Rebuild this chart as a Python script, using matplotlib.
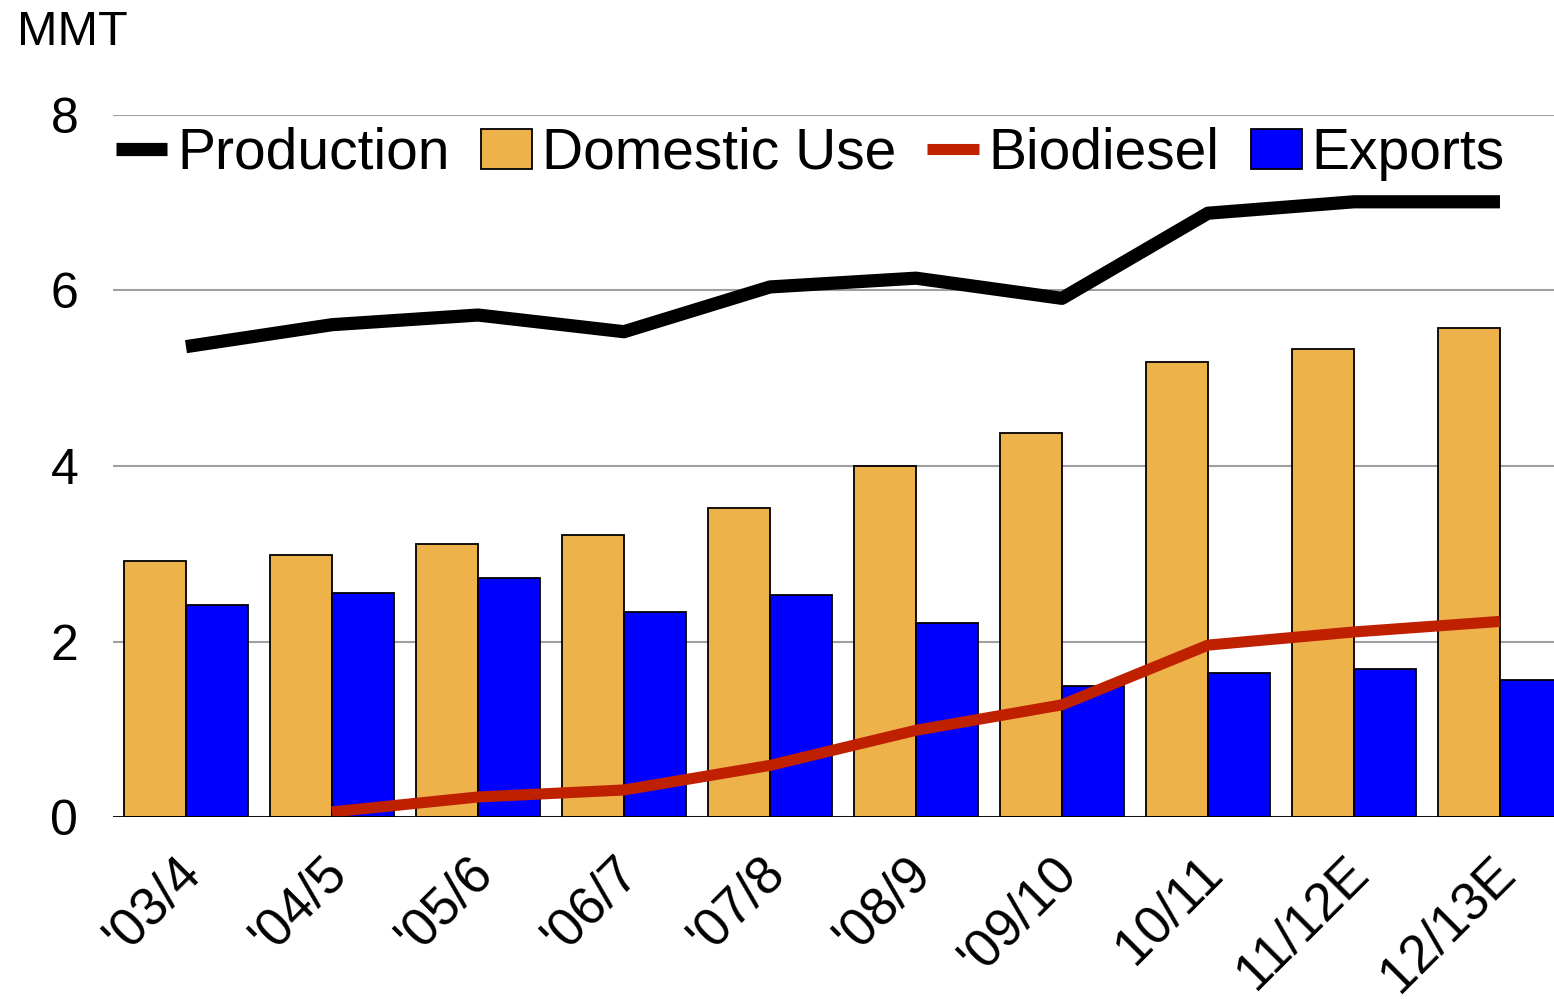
import matplotlib
matplotlib.use("Agg")
import matplotlib.pyplot as plt
from matplotlib.transforms import ScaledTranslation
import numpy as np

plt.rcParams['font.family'] = ['Liberation Sans', 'DejaVu Sans']

# marketing years and values (MMT)
years = ["'03/4", "'04/5", "'05/6", "'06/7", "'07/8", "'08/9", "'09/10", "10/11", "11/12E", "12/13E"]
production = [5.36, 5.61, 5.72, 5.53, 6.04, 6.14, 5.91, 6.88, 7.01, 7.01]
domestic_use = [2.92, 2.99, 3.11, 3.21, 3.52, 4.00, 4.38, 5.19, 5.33, 5.57]
exports = [2.42, 2.55, 2.72, 2.34, 2.53, 2.21, 1.49, 1.64, 1.69, 1.56]
biodiesel = [None, 0.06, 0.23, 0.31, 0.59, 0.99, 1.28, 1.96, 2.11, 2.23]

x = np.arange(len(years))
w = 0.425

fig = plt.figure(figsize=(15.54, 9.99), dpi=100)
ax = fig.add_axes([0.0727, 0.182, 0.9273, 0.703])

ax.bar(x - w / 2, domestic_use, w, color='#EDB24A', edgecolor='black', linewidth=1.3,
       label='Domestic Use', zorder=2)
ax.bar(x + w / 2, exports, w, color='#0000FF', edgecolor='black', linewidth=1.3,
       label='Exports', zorder=2)

ax.plot(x, production, color='black', linewidth=9.5, solid_capstyle='butt',
        solid_joinstyle='round', label='Production', zorder=3)
bx = [xi for xi, v in zip(x, biodiesel) if v is not None]
by = [v for v in biodiesel if v is not None]
ax.plot(bx, by, color='#BF2000', linewidth=8, solid_capstyle='butt',
        solid_joinstyle='round', label='Biodiesel', zorder=3)

ax.set_xlim(-0.5, 9.37)
ax.set_ylim(0, 8)
ax.set_yticks([0, 2, 4, 6, 8])
ax.yaxis.grid(True, color='#A0A0A0', linewidth=1.5, zorder=0)
ax.axhline(0, color='black', linewidth=2, zorder=4)
for s in ax.spines.values():
    s.set_visible(False)

ax.tick_params(axis='y', length=0, pad=25, labelsize=36)
ax.tick_params(axis='x', length=0, pad=22, labelsize=38)
ax.set_xticks(x)
ax.set_xticklabels(years, rotation=45, ha='right', rotation_mode='anchor')
shift = ScaledTranslation(-8 / 72, 0, fig.dpi_scale_trans)
for lab in ax.get_xticklabels():
    lab.set_transform(lab.get_transform() + shift)

fig.text(0.011, 0.99, 'MMT', fontsize=35, va='top', ha='left')

h, l = ax.get_legend_handles_labels()
order = [l.index(n) for n in ['Production', 'Domestic Use', 'Biodiesel', 'Exports']]
ax.legend([h[i] for i in order], [l[i] for i in order], loc='center', bbox_to_anchor=(0.484, 0.945),
          ncol=4, frameon=False, fontsize=41, handlelength=0.9, handletextpad=0.17,
          columnspacing=0.55, borderaxespad=0)

fig.savefig('out.png', dpi=100)
